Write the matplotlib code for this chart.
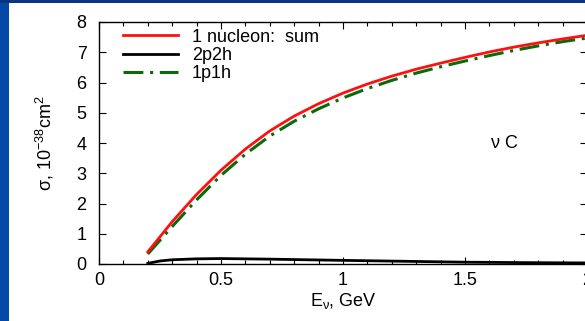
import numpy as np
from matplotlib import pyplot as plt
from matplotlib.patches import Rectangle
from matplotlib.ticker import MultipleLocator

# Cross sections on carbon
energy = [0.2, 0.3, 0.4, 0.5, 0.6, 0.7, 0.8, 0.9, 1.0, 1.1,
          1.2, 1.3, 1.4, 1.5, 1.6, 1.7, 1.8, 1.9, 2.0]
sigma_sum = [0.40, 1.40, 2.30, 3.10, 3.80, 4.40, 4.89, 5.30, 5.65, 5.95,
             6.21, 6.44, 6.64, 6.83, 7.01, 7.17, 7.31, 7.44, 7.56]
sigma_1p1h = [0.33, 1.24, 2.12, 2.93, 3.63, 4.23, 4.72, 5.13, 5.49, 5.80,
              6.07, 6.31, 6.52, 6.71, 6.89, 7.06, 7.21, 7.35, 7.47]
energy_2p2h = [0.2, 0.25, 0.3, 0.4, 0.5, 0.7, 1.0, 1.25, 1.5, 1.75, 2.0]
sigma_2p2h = [0.02, 0.10, 0.14, 0.17, 0.18, 0.16, 0.12, 0.09, 0.06, 0.045, 0.035]

plt.rcParams["font.family"] = ["Liberation Sans", "DejaVu Sans"]
plt.rcParams["mathtext.default"] = "regular"
FS = 13

fig = plt.figure(figsize=(5.85, 3.21), dpi=100)
fig.patch.set_facecolor("white")

# blue slide frame
fig.patches.append(Rectangle((0, 0), 9 / 585, 1, transform=fig.transFigure,
                             facecolor="#0548a8", edgecolor="none", zorder=0))
fig.patches.append(Rectangle((0, 1 - 2.5 / 321), 1, 2.5 / 321, transform=fig.transFigure,
                             facecolor="#0a3580", edgecolor="none", zorder=0))

ax = fig.add_axes([99 / 585, 57 / 321, 488 / 585, 242 / 321])

ax.plot(energy, sigma_sum, color="#ff1010", lw=2, label="1 nucleon:  sum", zorder=3)
ax.plot(energy_2p2h, sigma_2p2h, color="black", lw=2, label="2p2h", zorder=3)
ax.plot(energy, sigma_1p1h, color="#0a6a0a", lw=2.2, dashes=(6.5, 2.2, 1, 2.2),
        label="1p1h", zorder=2)

ax.set_xlim(0, 2)
ax.set_ylim(0, 8)
ax.xaxis.set_minor_locator(MultipleLocator(0.1))
ax.yaxis.set_major_locator(MultipleLocator(1))
ax.set_xticks([0, 0.5, 1, 1.5, 2], ["0", "0.5", "1", "1.5", "2"])
ax.tick_params(which="both", direction="in", top=True, right=True, labelsize=FS)
ax.tick_params(which="major", length=5, width=0.8)
ax.tick_params(which="minor", length=3, width=0.8)
ax.tick_params(axis="x", pad=6)
ax.tick_params(axis="y", pad=9)
for sp in ax.spines.values():
    sp.set_linewidth(1.0)

ax.set_xlabel("E$_{\\nu}$, GeV", fontsize=FS, labelpad=1)
ax.set_ylabel("σ, 10$^{-38}$cm$^{2}$", fontsize=FS, labelpad=15)

ax.text(1.66, 4.0, "ν C", fontsize=FS, ha="center", va="center")

ax.legend(loc="upper left", bbox_to_anchor=(0.05, 0.973), frameon=False,
          handlelength=3.0, handletextpad=0.8, labelspacing=0.08,
          borderaxespad=0, borderpad=0, fontsize=FS)

plt.savefig("out.png", dpi=100, facecolor=fig.get_facecolor())
